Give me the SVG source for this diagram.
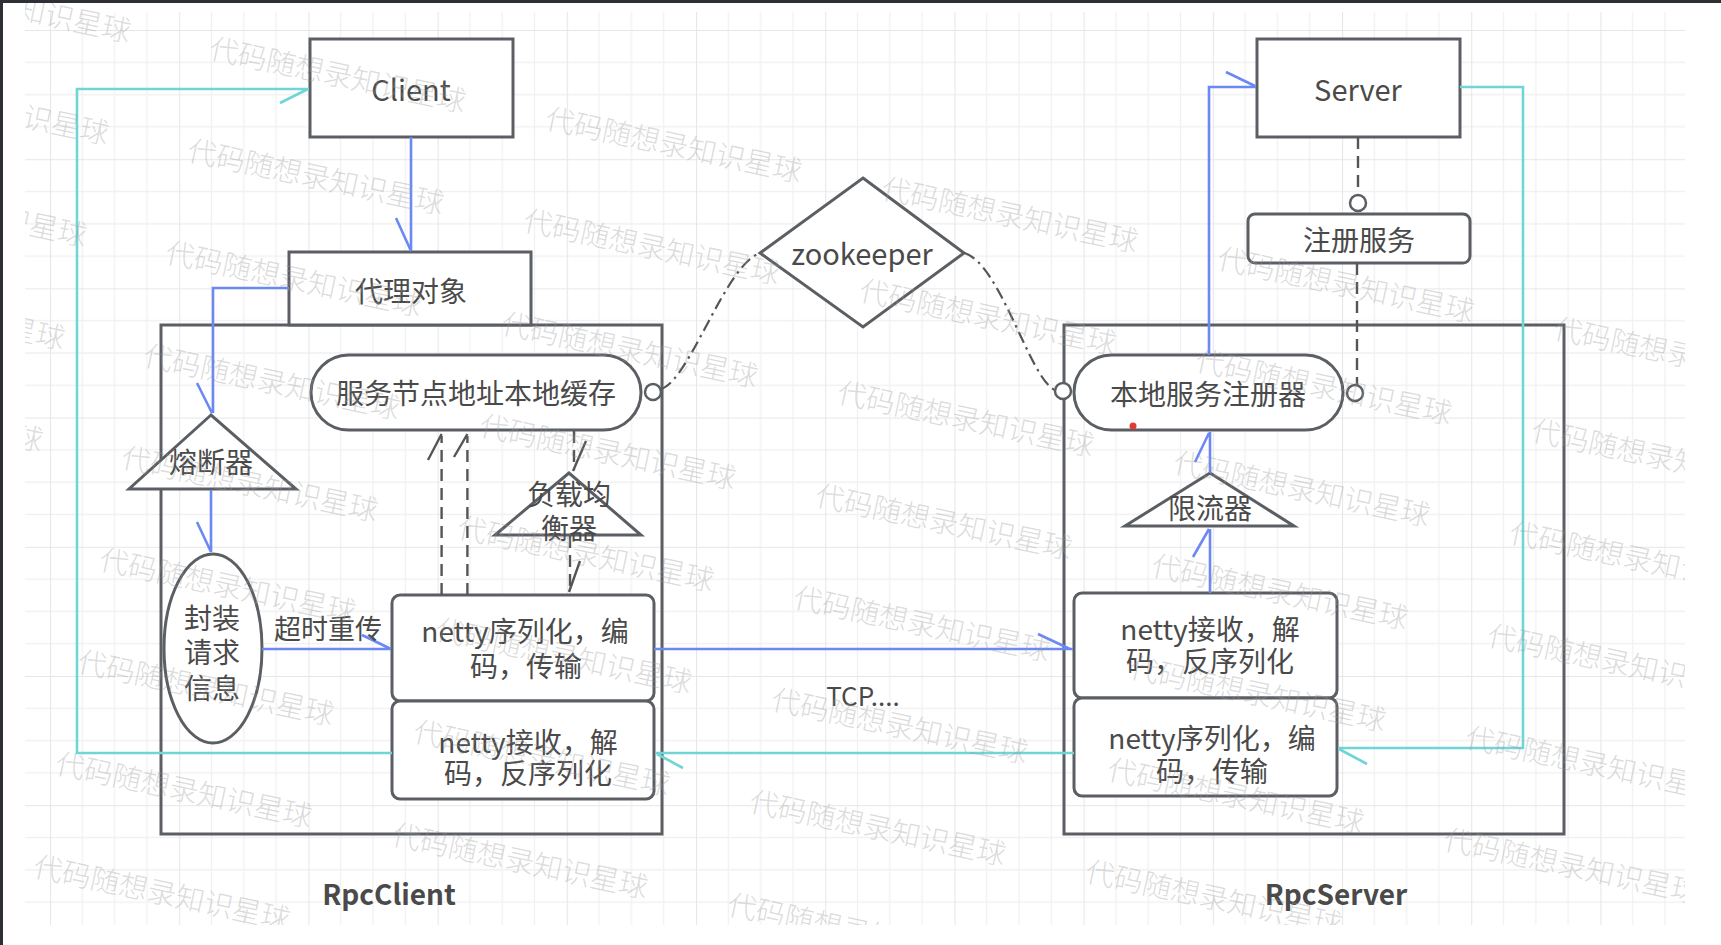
<svg xmlns="http://www.w3.org/2000/svg" width="1721" height="945" viewBox="0 0 1721 945">
<defs>
<pattern id="grid" patternUnits="userSpaceOnUse" x="50" y="30" width="129.2" height="129.2">
<path d="M32.3 0V129.2M64.6 0V129.2M96.9 0V129.2M0 32.3H129.2M0 64.6H129.2M0 96.9H129.2" stroke="#f1f1f1" stroke-width="1.3" fill="none"/>
<path d="M0 0V129.2M0 0H129.2" stroke="#e7e7e7" stroke-width="2.2" fill="none"/>
</pattern>
<clipPath id="wmclip"><rect x="25" y="3" width="1660" height="922"/></clipPath>
<style>
.box{fill:#fff;stroke:#5b5f64;stroke-width:3}
.cont{fill:none;stroke:#5b5f64;stroke-width:3}
.t{font-family:"Noto Sans CJK SC","Noto Sans",sans-serif;fill:#4a4a4a;text-anchor:middle;dominant-baseline:central}
.f28{font-size:28px}
.f30{font-size:29px}
.b{font-weight:bold;font-size:28px;fill:#4a4a4a}
.blue{fill:none;stroke:#6b88f5;stroke-width:2.6}
.cyan{fill:none;stroke:#6fd5d6;stroke-width:2.6}
.dash{fill:none;stroke:#555;stroke-width:2.4;stroke-dasharray:12 7}
.dd{fill:none;stroke:#555;stroke-width:2.2;stroke-dasharray:12 5 2.5 5}
.wing{fill:none;stroke:#555;stroke-width:2.4}
.ring{fill:#fff;stroke:#5b5f64;stroke-width:2.5}
.wm{font-family:"Noto Sans CJK SC",sans-serif;font-size:29px;font-weight:300;fill:#9a9a9a;fill-opacity:0.36}
</style>
</defs>
<rect x="0" y="0" width="1721" height="945" fill="#fff"/>
<rect x="25" y="12" width="1660" height="913" fill="url(#grid)"/>
<rect x="0" y="0" width="1721" height="3" fill="#2d3136"/>
<rect x="0" y="0" width="3" height="945" fill="#2d3136"/>

<g id="rpcclient">
<rect class="cont" x="161" y="325" width="501" height="509"/>
<text class="t b" x="389" y="893">RpcClient</text>
</g>
<g id="rpcserver">
<rect class="cont" x="1064" y="325" width="500" height="509"/>
<text class="t b" x="1336" y="893">RpcServer</text>
</g>

<g id="client">
<rect class="box" x="310" y="39" width="203" height="98"/>
<text class="t f30" x="411" y="88">Client</text>
</g>
<g id="proxy">
<rect class="box" x="289" y="252" width="242" height="73"/>
<text class="t f28" x="411" y="290">代理对象</text>
</g>
<g id="cache">
<rect class="box" x="311" y="355" width="330" height="75" rx="37.5"/>
<text class="t f28" x="476" y="392">服务节点地址本地缓存</text>
</g>
<g id="breaker">
<polygon class="box" points="211,415 129,489 296,489"/>
<text class="t f28" x="211" y="461">熔断器</text>
</g>
<g id="lb">
<polygon class="box" points="569,473 495,535 641,535"/>
<text class="t f28" x="569" y="493">负载均</text>
<text class="t f28" x="569" y="527">衡器</text>
</g>
<g id="wrap">
<ellipse class="box" cx="213" cy="648.5" rx="49" ry="94.5"/>
<text class="t f28" x="212" y="617">封装</text>
<text class="t f28" x="212" y="651">请求</text>
<text class="t f28" x="212" y="687">信息</text>
</g>
<g id="c-encode">
<rect class="box" x="392" y="595" width="262" height="106" rx="8"/>
<text class="t f28" x="525" y="630">netty序列化，编</text>
<text class="t f28" x="526" y="665">码，传输</text>
</g>
<g id="c-decode">
<rect class="box" x="392" y="701" width="262" height="98" rx="8"/>
<text class="t f28" x="528" y="741">netty接收，解</text>
<text class="t f28" x="528" y="772">码，反序列化</text>
</g>
<g id="zookeeper">
<polygon class="box" points="863,178 964,253 863,327 760,253"/>
<text class="t f30" x="862" y="252">zookeeper</text>
</g>
<g id="server">
<rect class="box" x="1257" y="39" width="203" height="98"/>
<text class="t f30" x="1358" y="88">Server</text>
</g>
<g id="register">
<rect class="box" x="1248" y="214" width="222" height="49" rx="7"/>
<text class="t f28" x="1359" y="239">注册服务</text>
</g>
<g id="registry">
<rect class="box" x="1074" y="355" width="269" height="75" rx="37.5"/>
<text class="t f28" x="1208" y="393">本地服务注册器</text>
<circle cx="1133" cy="426" r="3.5" fill="#e53935"/>
</g>
<g id="limiter">
<polygon class="box" points="1210,473 1125,526 1294,526"/>
<text class="t f28" x="1210" y="507">限流器</text>
</g>
<g id="s-decode">
<rect class="box" x="1074" y="593" width="263" height="105" rx="8"/>
<text class="t f28" x="1210" y="628">netty接收，解</text>
<text class="t f28" x="1210" y="660">码，反序列化</text>
</g>
<g id="s-encode">
<rect class="box" x="1074" y="698" width="263" height="98" rx="8"/>
<text class="t f28" x="1212" y="737">netty序列化，编</text>
<text class="t f28" x="1212" y="770">码，传输</text>
</g>

<g id="connectors">
<path class="blue" d="M411 137V251M396 218L411 251"/>
<path class="blue" d="M289 288H213V413M197 383L212 413"/>
<path class="blue" d="M211 490V552M197 522L211 552"/>
<path class="blue" d="M262 649H391M362 635L391 649"/>
<path class="blue" d="M654 649H1073M1038 634L1070 649"/>
<path class="blue" d="M1210 593V529M1193 557L1209 529"/>
<path class="blue" d="M1210 473V432M1195 462L1209 433"/>
<path class="blue" d="M1209 355V87H1256M1226 72L1255 86"/>
<path class="cyan" d="M392 753H77V89H309M280 103L308 89"/>
<path class="cyan" d="M1460 87H1523V748H1338M1367 764L1339 749"/>
<path class="cyan" d="M1074 753H656M683 768L657 754"/>
<path class="dash" d="M441.6 595V436M467.4 595V436"/>
<path class="wing" d="M428 460L441.6 434M454 457L467.4 434"/>
<path class="dash" d="M574 431V470"/>
<path class="wing" d="M586 441L573 471"/>
<path class="dash" d="M570 536V592"/>
<path class="wing" d="M580 561L569 592"/>
<path class="dash" d="M1358 137V195"/>
<circle class="ring" cx="1358" cy="203" r="8"/>
<path class="dash" d="M1357 263V385"/>
<circle class="ring" cx="1355" cy="393" r="8"/>
<path class="dd" d="M661 389C690 380 725 265 760 253"/>
<circle class="ring" cx="653" cy="392" r="8"/>
<path class="dd" d="M964 253C1000 262 1030 380 1055 390"/>
<circle class="ring" cx="1063" cy="391" r="8"/>
<text class="t" x="863" y="694" font-size="26">TCP....</text>
<text class="t" x="328" y="627" font-size="27">超时重传</text>
</g>

<g id="watermarks" clip-path="url(#wmclip)">
<text class="wm" x="-127" y="-12" transform="rotate(12 -127 -12)">代码随想录知识星球</text>
<text class="wm" x="-149" y="90" transform="rotate(12 -149 90)">代码随想录知识星球</text>
<text class="wm" x="-171" y="192" transform="rotate(12 -171 192)">代码随想录知识星球</text>
<text class="wm" x="-193" y="295" transform="rotate(12 -193 295)">代码随想录知识星球</text>
<text class="wm" x="-215" y="397" transform="rotate(12 -215 397)">代码随想录知识星球</text>
<text class="wm" x="208" y="58" transform="rotate(12 208 58)">代码随想录知识星球</text>
<text class="wm" x="186" y="160" transform="rotate(12 186 160)">代码随想录知识星球</text>
<text class="wm" x="164" y="262" transform="rotate(12 164 262)">代码随想录知识星球</text>
<text class="wm" x="142" y="365" transform="rotate(12 142 365)">代码随想录知识星球</text>
<text class="wm" x="120" y="467" transform="rotate(12 120 467)">代码随想录知识星球</text>
<text class="wm" x="98" y="569" transform="rotate(12 98 569)">代码随想录知识星球</text>
<text class="wm" x="76" y="671" transform="rotate(12 76 671)">代码随想录知识星球</text>
<text class="wm" x="54" y="773" transform="rotate(12 54 773)">代码随想录知识星球</text>
<text class="wm" x="32" y="876" transform="rotate(12 32 876)">代码随想录知识星球</text>
<text class="wm" x="544" y="128" transform="rotate(12 544 128)">代码随想录知识星球</text>
<text class="wm" x="522" y="230" transform="rotate(12 522 230)">代码随想录知识星球</text>
<text class="wm" x="500" y="333" transform="rotate(12 500 333)">代码随想录知识星球</text>
<text class="wm" x="478" y="435" transform="rotate(12 478 435)">代码随想录知识星球</text>
<text class="wm" x="456" y="537" transform="rotate(12 456 537)">代码随想录知识星球</text>
<text class="wm" x="434" y="639" transform="rotate(12 434 639)">代码随想录知识星球</text>
<text class="wm" x="412" y="741" transform="rotate(12 412 741)">代码随想录知识星球</text>
<text class="wm" x="390" y="844" transform="rotate(12 390 844)">代码随想录知识星球</text>
<text class="wm" x="880" y="198" transform="rotate(12 880 198)">代码随想录知识星球</text>
<text class="wm" x="858" y="300" transform="rotate(12 858 300)">代码随想录知识星球</text>
<text class="wm" x="836" y="402" transform="rotate(12 836 402)">代码随想录知识星球</text>
<text class="wm" x="814" y="505" transform="rotate(12 814 505)">代码随想录知识星球</text>
<text class="wm" x="792" y="607" transform="rotate(12 792 607)">代码随想录知识星球</text>
<text class="wm" x="770" y="709" transform="rotate(12 770 709)">代码随想录知识星球</text>
<text class="wm" x="748" y="811" transform="rotate(12 748 811)">代码随想录知识星球</text>
<text class="wm" x="726" y="914" transform="rotate(12 726 914)">代码随想录知识星球</text>
<text class="wm" x="1216" y="268" transform="rotate(12 1216 268)">代码随想录知识星球</text>
<text class="wm" x="1194" y="370" transform="rotate(12 1194 370)">代码随想录知识星球</text>
<text class="wm" x="1172" y="472" transform="rotate(12 1172 472)">代码随想录知识星球</text>
<text class="wm" x="1150" y="575" transform="rotate(12 1150 575)">代码随想录知识星球</text>
<text class="wm" x="1128" y="677" transform="rotate(12 1128 677)">代码随想录知识星球</text>
<text class="wm" x="1106" y="779" transform="rotate(12 1106 779)">代码随想录知识星球</text>
<text class="wm" x="1084" y="881" transform="rotate(12 1084 881)">代码随想录知识星球</text>
<text class="wm" x="1552" y="338" transform="rotate(12 1552 338)">代码随想录知识星球</text>
<text class="wm" x="1530" y="440" transform="rotate(12 1530 440)">代码随想录知识星球</text>
<text class="wm" x="1508" y="542" transform="rotate(12 1508 542)">代码随想录知识星球</text>
<text class="wm" x="1486" y="645" transform="rotate(12 1486 645)">代码随想录知识星球</text>
<text class="wm" x="1464" y="747" transform="rotate(12 1464 747)">代码随想录知识星球</text>
<text class="wm" x="1442" y="849" transform="rotate(12 1442 849)">代码随想录知识星球</text>
</g>
</svg>
